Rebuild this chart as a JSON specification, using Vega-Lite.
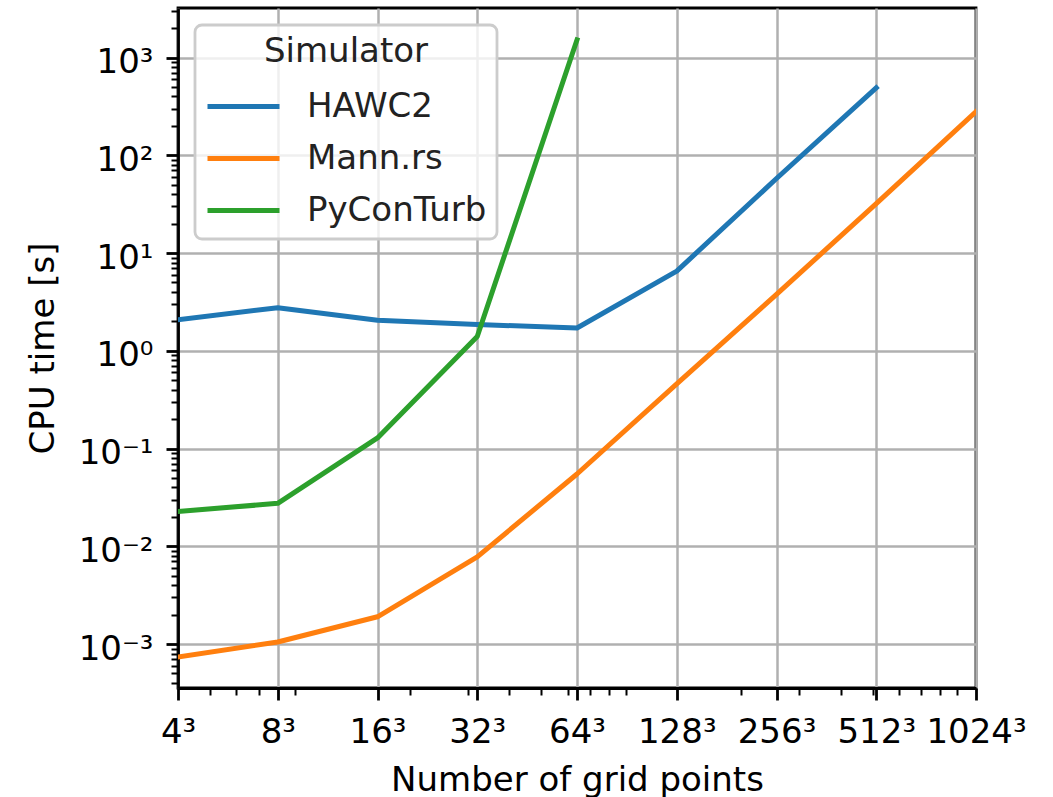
{
  "$schema": "https://vega.github.io/schema/vega-lite/v6.json",
  "width": 798,
  "height": 680,
  "autosize": {"type": "none"},
  "padding": {"left": 178, "top": 8, "right": 77, "bottom": 109},
  "background": "white",
  "config": {
    "font": "DejaVu Sans",
    "view": {"stroke": "black", "strokeWidth": 2.8},
    "axis": {
      "labelFont": "DejaVu Sans",
      "titleFont": "DejaVu Sans",
      "labelFontSize": 34,
      "titleFontSize": 34,
      "titleFontWeight": "normal",
      "labelColor": "black",
      "titleColor": "black",
      "domainColor": "black",
      "domainWidth": 2.8,
      "tickColor": "black",
      "labelFlush": false,
      "labelOverlap": false,
      "labelBound": false
    }
  },
  "data": {
    "values": [
      {"sim": "HAWC2", "N": 4, "t": 2.08},
      {"sim": "HAWC2", "N": 8, "t": 2.76},
      {"sim": "HAWC2", "N": 16, "t": 2.05},
      {"sim": "HAWC2", "N": 32, "t": 1.86},
      {"sim": "HAWC2", "N": 64, "t": 1.71},
      {"sim": "HAWC2", "N": 128, "t": 6.54},
      {"sim": "HAWC2", "N": 256, "t": 57.9},
      {"sim": "HAWC2", "N": 512, "t": 490},
      {"sim": "Mann.rs", "N": 4, "t": 0.000738},
      {"sim": "Mann.rs", "N": 8, "t": 0.00105},
      {"sim": "Mann.rs", "N": 16, "t": 0.0019},
      {"sim": "Mann.rs", "N": 32, "t": 0.0078},
      {"sim": "Mann.rs", "N": 64, "t": 0.0549},
      {"sim": "Mann.rs", "N": 128, "t": 0.459},
      {"sim": "Mann.rs", "N": 256, "t": 3.77},
      {"sim": "Mann.rs", "N": 512, "t": 32.1},
      {"sim": "Mann.rs", "N": 1024, "t": 280},
      {"sim": "PyConTurb", "N": 4, "t": 0.0227},
      {"sim": "PyConTurb", "N": 8, "t": 0.0275},
      {"sim": "PyConTurb", "N": 16, "t": 0.1285},
      {"sim": "PyConTurb", "N": 32, "t": 1.40},
      {"sim": "PyConTurb", "N": 64, "t": 1520}
    ]
  },
  "layer": [
    {
      "mark": {"type": "line", "opacity": 0},
      "encoding": {
        "x": {
          "field": "N", "type": "quantitative",
          "scale": {"type": "log", "base": 2, "domain": [4, 1024], "nice": false},
          "axis": {
            "orient": "bottom", "values": [5, 6, 7, 9, 20, 30, 40, 50, 60, 70, 80, 90, 200, 300, 400, 500, 600, 700, 800, 900],
            "labels": false, "tickSize": 7, "tickWidth": 2, "grid": false, "domain": false, "title": null
          }
        },
        "y": {
          "field": "t", "type": "quantitative",
          "scale": {"type": "log", "domain": [0.000355, 3215], "nice": false},
          "axis": {
            "orient": "left",
            "values": [0.0004, 0.0005, 0.0006, 0.0007, 0.0008, 0.0009, 0.002, 0.003, 0.004, 0.005, 0.006, 0.007, 0.008, 0.009, 0.02, 0.03, 0.04, 0.05, 0.06, 0.07, 0.08, 0.09, 0.2, 0.3, 0.4, 0.5, 0.6, 0.7, 0.8, 0.9, 2, 3, 4, 5, 6, 7, 8, 9, 20, 30, 40, 50, 60, 70, 80, 90, 200, 300, 400, 500, 600, 700, 800, 900, 2000, 3000],
            "labels": false, "tickSize": 7, "tickWidth": 2, "grid": false, "domain": false, "title": null
          }
        }
      }
    },
    {
      "mark": {"type": "line", "strokeWidth": 5, "strokeCap": "square", "strokeJoin": "round", "clip": true},
      "encoding": {
        "x": {
          "field": "N", "type": "quantitative",
          "scale": {"type": "log", "base": 2, "domain": [4, 1024], "nice": false},
          "axis": {
            "orient": "bottom",
            "values": [4, 8, 16, 32, 64, 128, 256, 512, 1024],
            "labelExpr": "datum.value + '³'",
            "tickSize": 12, "tickWidth": 2.8,
            "grid": true, "gridColor": "#b0b0b0", "gridWidth": 2.5,
            "labelPadding": 42, "labelBaseline": "alphabetic",
            "title": "Number of grid points",
            "titleX": 399, "titleY": 102, "titleBaseline": "alphabetic", "titleAlign": "center"
          }
        },
        "y": {
          "field": "t", "type": "quantitative",
          "scale": {"type": "log", "domain": [0.000355, 3215], "nice": false},
          "axis": {
            "orient": "left",
            "values": [0.001, 0.01, 0.1, 1, 10, 100, 1000],
            "labelExpr": "datum.value >= 999 ? '10³' : datum.value >= 99 ? '10²' : datum.value >= 9 ? '10¹' : datum.value >= 0.9 ? '10⁰' : datum.value >= 0.09 ? '10⁻¹' : datum.value >= 0.009 ? '10⁻²' : '10⁻³'",
            "tickSize": 12, "tickWidth": 2.8,
            "grid": true, "gridColor": "#b0b0b0", "gridWidth": 2.5,
            "labelPadding": 13, "labelBaseline": "alphabetic", "labelOffset": 15,
            "title": "CPU time [s]",
            "titleX": -125, "titleY": 340, "titleAngle": -90, "titleBaseline": "alphabetic", "titleAlign": "center"
          }
        },
        "color": {
          "field": "sim", "type": "nominal",
          "scale": {"domain": ["HAWC2", "Mann.rs", "PyConTurb"], "range": ["#1f77b4", "#ff7f0e", "#2ca02c"]},
          "legend": {
            "title": "Simulator",
            "orient": "top-left",
            "offset": 17,
            "padding": 10,
            "fillColor": "rgba(255,255,255,0.8)",
            "strokeColor": "#cccccc",
            "cornerRadius": 7,
            "symbolType": "stroke",
            "symbolSize": 5184,
            "symbolStrokeWidth": 5,
            "clipHeight": 37,
            "rowPadding": 15,
            "labelOffset": 25,
            "labelLimit": 500,
            "labelFont": "DejaVu Sans",
            "labelFontSize": 34,
            "labelColor": "#222222",
            "titleFont": "DejaVu Sans",
            "titleFontSize": 34,
            "titleFontWeight": "normal",
            "titleColor": "#222222",
            "titleAnchor": "middle",
            "titleAlign": "center",
            "titlePadding": 19,
            "titleLimit": 500,
            "encode": {"legend": {"update": {"strokeWidth": {"value": 2.8}}}}
          }
        }
      }
    }
  ],
  "resolve": {"axis": {"x": "independent", "y": "independent"}}
}
